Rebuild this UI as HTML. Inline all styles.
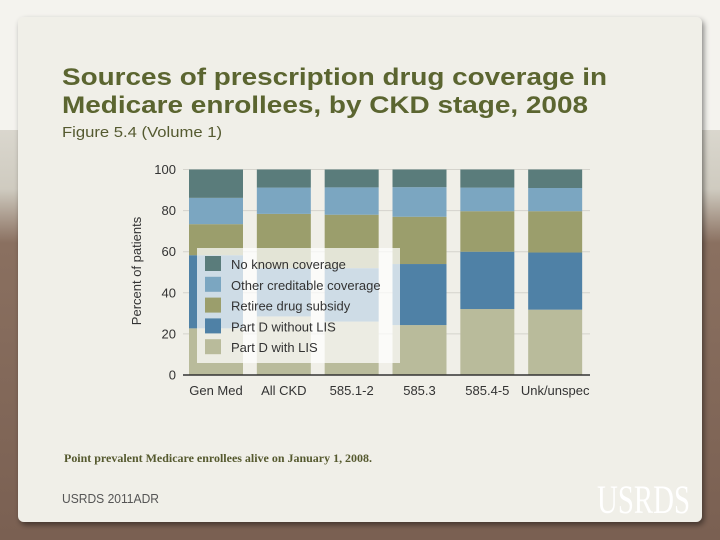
<!DOCTYPE html>
<html><head><meta charset="utf-8"><style>
html,body{margin:0;padding:0;width:720px;height:540px;overflow:hidden;background:#e4e2da;}
svg{display:block;font-family:"Liberation Sans",Arial,sans-serif;}
</style></head><body>
<svg width="720" height="540" viewBox="0 0 720 540">
  <defs>
    <linearGradient id="bgGrad" x1="0" y1="0" x2="0" y2="1">
      <stop offset="0" stop-color="#f2f1ec"/>
      <stop offset="0.35" stop-color="#cfcbc0"/>
      <stop offset="0.45" stop-color="#8a7060"/>
      <stop offset="1" stop-color="#7a6052"/>
    </linearGradient>
    <filter id="sh" x="-5%" y="-5%" width="110%" height="110%"><feDropShadow dx="2" dy="3" stdDeviation="3" flood-color="#000" flood-opacity="0.45"/></filter>
  </defs>
  <rect x="0" y="0" width="720" height="540" fill="url(#bgGrad)"/>
  <rect x="0" y="0" width="720" height="130" fill="#f4f3ee"/>
  <rect x="18" y="17" width="684" height="505" rx="6" fill="#f0efe8" filter="url(#sh)"/>

  <text x="62" y="85" font-size="24" font-weight="bold" fill="#5b6530" textLength="545" lengthAdjust="spacingAndGlyphs">Sources of prescription drug coverage in</text>
  <text x="62" y="113" font-size="24" font-weight="bold" fill="#5b6530" textLength="526" lengthAdjust="spacingAndGlyphs">Medicare enrollees, by CKD stage, 2008</text>
  <text x="62" y="137" font-size="15" fill="#555a30" textLength="160" lengthAdjust="spacingAndGlyphs">Figure 5.4 (Volume 1)</text>

  <g id="chart"></g>

  <text x="64" y="462" font-size="12" font-weight="bold" fill="#55592e" font-family="Liberation Serif,serif" textLength="308" lengthAdjust="spacingAndGlyphs">Point prevalent Medicare enrollees alive on January 1, 2008.</text>
  <text x="62" y="503" font-size="13" fill="#555" textLength="97" lengthAdjust="spacingAndGlyphs">USRDS 2011ADR</text>
  <text x="597" y="513" font-size="40" fill="#ffffff" font-family="Liberation Serif,serif" textLength="93" lengthAdjust="spacingAndGlyphs">USRDS</text>
</svg>
<script>
const categories = ["Gen Med","All CKD","585.1-2","585.3","585.4-5","Unk/unspec"];
const seriesNames = ["Part D with LIS","Part D without LIS","Retiree drug subsidy","Other creditable coverage","No known coverage"];
const partDWithLIS = [22.7, 28.5, 26, 24.3, 32.1, 31.8];
const partDWithoutLIS = [35.6, 23.5, 26, 29.7, 27.9, 27.8];
const retireeSubsidy = [15.1, 26.4, 26, 23, 19.7, 20.1];
const otherCreditable = [12.8, 12.8, 13.3, 14.4, 11.5, 11.3];
const noKnown = [13.8, 8.8, 8.7, 8.6, 8.8, 9.0];
const yTicks = [0,20,40,60,80,100];

const NS="http://www.w3.org/2000/svg";
const g=document.getElementById('chart');
const colors=["#b9bb9b","#4f81a6","#9b9e6c","#7ba6c1","#5a7c7b"];
const series=[partDWithLIS,partDWithoutLIS,retireeSubsidy,otherCreditable,noKnown];
const x0=183,x1=590,yTop=169.5,yBot=375;
const y=v=>yBot-(v/100)*(yBot-yTop);
const slot=(x1-x0)/categories.length;
const bx=i=>x0+6+i*slot*1.0;
const bw=54;
function mk(tag,attrs){const e=document.createElementNS(NS,tag);for(const k in attrs)e.setAttribute(k,attrs[k]);g.appendChild(e);return e;}
yTicks.forEach(t=>{
  if(t>0){const l=mk('line',{x1:x0,x2:x1,y1:y(t),y2:y(t),stroke:'#d4d3cc','stroke-width':1});
  
  }
  const tx=mk('text',{x:176,y:y(t)+4.5,'font-size':13,'text-anchor':'end',fill:'#333'});
  tx.textContent=t;
  
  
});
categories.forEach((c,i)=>{
  let cum=0;
  series.forEach((s,k)=>{
    const v=s[i];
    const r=mk('rect',{x:bx(i),y:y(cum+v),width:bw,height:y(cum)-y(cum+v),fill:colors[k]});
    
    
    cum+=v;
  });
  const t=mk('text',{x:bx(i)+bw/2,y:395,'font-size':13,'text-anchor':'middle',fill:'#333'});
  t.textContent=c;
  
  
});
const ax=mk('line',{x1:x0,x2:x1,y1:yBot,y2:yBot,stroke:'#333','stroke-width':1.5});


const yt=mk('text',{x:0,y:0,'font-size':13,'text-anchor':'middle',fill:'#333',transform:'translate(141,271) rotate(-90)'});
yt.textContent='Percent of patients';


const lb=mk('rect',{x:197,y:248,width:203,height:115,fill:'#ffffff','fill-opacity':0.72});


for(let k=0;k<5;k++){
  const idx=4-k, yy=256+k*20.8;
  const sw=mk('rect',{x:205,y:yy,width:16,height:15,fill:colors[idx]});
  
  
  const lt=mk('text',{x:231,y:yy+13,'font-size':13,fill:'#333'});
  lt.textContent=seriesNames[idx];
  
  
}
</script>
</body></html>
